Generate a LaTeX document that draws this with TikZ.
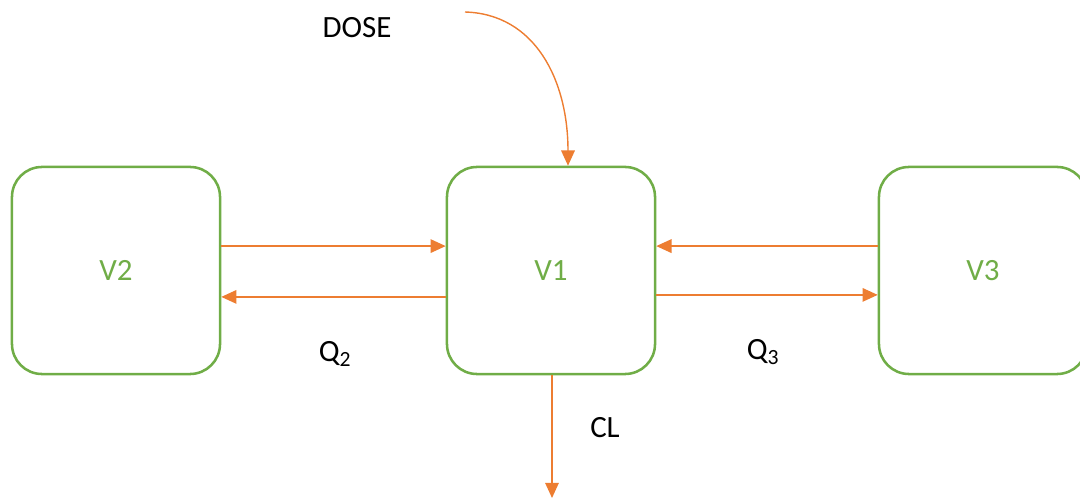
\documentclass[tikz,border=0pt]{standalone}
\usepackage{fontspec}
\setmainfont{Carlito}
\usetikzlibrary{arrows.meta}
\definecolor{boxgreen}{RGB}{112,173,71}
\definecolor{flowor}{RGB}{237,125,49}
\tikzset{
  comp/.style={draw=boxgreen, line width=1.8pt, rounded corners=0.75cm,
    minimum width=5.2cm, minimum height=5.175cm, inner sep=0pt,
    text=boxgreen, font=\fontsize{22}{26}\selectfont},
  flow/.style={draw=flowor, line width=1pt, -{Triangle[length=0.38cm,width=0.34cm]}},
  lab/.style={font=\fontsize{22}{26}\selectfont, inner sep=0pt}
}
\begin{document}
\begin{tikzpicture}[x=0.025cm,y=-0.025cm]
   \useasboundingbox (0,0) rectangle (1080,503);
   % compartments
   \node[comp] (v2) at (116,270.5) {V2};
   \node[comp] (v1) at (551,270.5) {V1};
   \node[comp] (v3) at (983,270.5) {V3};
   % inter-compartment flows
   \draw[flow] ([yshift=0.61cm]v2.east) -- ([yshift=0.61cm]v1.west);
   \draw[flow] ([yshift=-0.66cm]v1.west) -- ([yshift=-0.66cm]v2.east);
   \draw[flow] ([yshift=0.61cm]v3.west) -- ([yshift=0.61cm]v1.east);
   \draw[flow] ([yshift=-0.61cm]v1.east) -- ([yshift=-0.61cm]v3.west);
   \node[lab] (q2) at (335,354) {Q\textsubscript{2}};
   \node[lab] (q3) at (763,352) {Q\textsubscript{3}};
   % dose in, clearance out
   \node[lab] (dose) at (357,28) {DOSE};
   \coordinate (dosestart) at (465,12);
   \draw[flow] (dosestart) .. controls (535,14) and (568,80) .. ([xshift=0.425cm]v1.north);
   \coordinate (clend) at (552,498);
   \draw[flow] ([xshift=0.025cm]v1.south) -- (clend);
   \node[lab] (cl) at (605,428) {CL};
\end{tikzpicture}
\end{document}
